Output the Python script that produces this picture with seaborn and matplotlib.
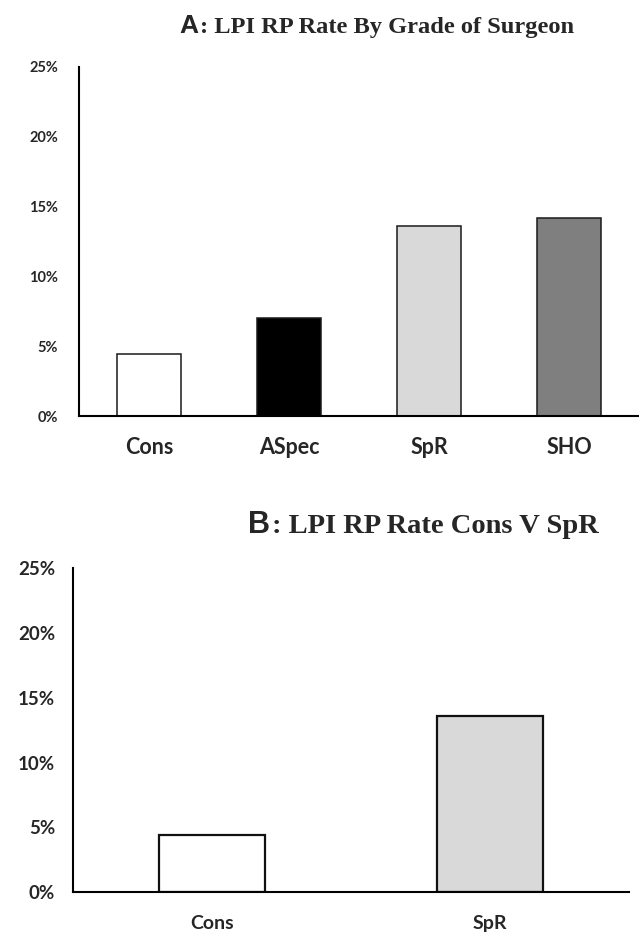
import matplotlib.pyplot as plt
import seaborn as sns
from matplotlib.ticker import PercentFormatter

# data
grades = ['Cons', 'ASpec', 'SpR', 'SHO']
grade_rates = [4.45, 7.0, 13.6, 14.2]
pair_grades = ['Cons', 'SpR']
pair_rates = [4.45, 13.6]
y_ticks = [0, 5, 10, 15, 20, 25]

grade_colors = {'Cons': '#ffffff', 'ASpec': '#000000', 'SpR': '#d9d9d9', 'SHO': '#7f7f7f'}

sns.set_style('white')
plt.rcParams['font.family'] = ['Lato', 'DejaVu Sans']
plt.rcParams['font.weight'] = 'bold'

W, H = 639, 933
fig = plt.figure(figsize=(W / 100, H / 100), dpi=100)


def style_axis(ax, ypad, ysize, xpad, xsize):
    ax.set_ylim(0, 25)
    ax.set_yticks(y_ticks)
    ax.yaxis.set_major_formatter(PercentFormatter(decimals=0))
    ax.set_xlabel('')
    ax.set_ylabel('')
    sns.despine(ax=ax)
    for s in ['left', 'bottom']:
        ax.spines[s].set_color('black')
        ax.spines[s].set_linewidth(1.5)
    ax.tick_params(axis='both', length=0)
    ax.tick_params(axis='y', pad=ypad, labelsize=ysize)
    ax.tick_params(axis='x', pad=xpad, labelsize=xsize)
    for lab in ax.get_xticklabels() + ax.get_yticklabels():
        lab.set_fontweight('bold')


# panel A
axA = fig.add_axes([79 / W, (H - 416) / H, 560 / W, 349 / H])
sns.barplot(x=grades, y=grade_rates, hue=grades, palette=grade_colors, saturation=1,
            width=0.455, edgecolor='#1a1a1a', linewidth=1.1, legend=False, ax=axA)
axA.set_xlim(-0.5, 3.5)
style_axis(axA, 15, 10.5, 15, 15.5)

# panel B
axB = fig.add_axes([73 / W, (H - 892.3) / H, 556 / W, 324.3 / H])
sns.barplot(x=pair_grades, y=pair_rates, hue=pair_grades, palette=grade_colors, saturation=1,
            width=0.38, edgecolor='#111111', linewidth=1.6, legend=False, ax=axB)
axB.set_xlim(-0.5, 1.5)
style_axis(axB, 13, 13.5, 16, 14)

# titles: sans letter + serif text
fig.text(179 / W, 1 - 33 / H, 'A', family='Liberation Sans', weight='bold', size=19, va='baseline')
fig.text(200 / W, 1 - 33 / H, ': LPI RP Rate By Grade of Surgeon', family='Liberation Serif',
         weight='bold', size=17.6, va='baseline')
fig.text(248 / W, 1 - 533 / H, 'B', family='Liberation Sans', weight='bold', size=22, va='baseline')
fig.text(272 / W, 1 - 533 / H, ': LPI RP Rate Cons V SpR', family='Liberation Serif',
         weight='bold', size=20.5, va='baseline')

plt.savefig('out.png', dpi=100)
